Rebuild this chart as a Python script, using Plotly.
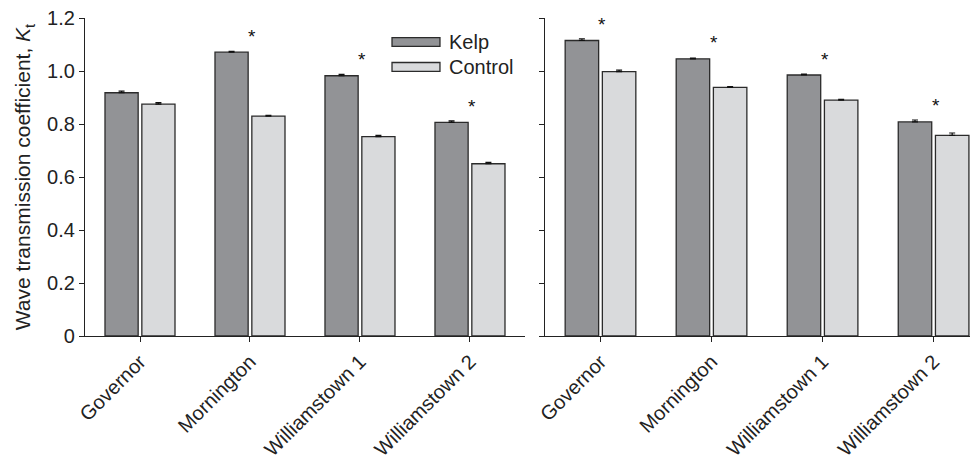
import plotly.graph_objects as go

sites = ["Governor", "Mornington", "Williamstown 1", "Williamstown 2"]

left_kelp = [0.918, 1.071, 0.982, 0.806]
left_kelp_err = [0.006, 0.003, 0.005, 0.006]
left_control = [0.875, 0.830, 0.752, 0.650]
left_control_err = [0.006, 0.003, 0.005, 0.005]
left_sig = [False, True, True, True]

right_kelp = [1.115, 1.046, 0.985, 0.808]
right_kelp_err = [0.006, 0.003, 0.003, 0.007]
right_control = [0.998, 0.938, 0.890, 0.757]
right_control_err = [0.005, 0.003, 0.003, 0.009]
right_sig = [True, True, True, True]

y_ticks = [0, 0.2, 0.4, 0.6, 0.8, 1.0, 1.2]
y_ticktext = ["0", "0.2", "0.4", "0.6", "0.8", "1.0", "1.2"]

KELP = "#929396"
CONTROL = "#d9dadc"
EDGE = "#2b2b2b"
FONT = "Liberation Sans, Arial, Helvetica, sans-serif"

fig = go.Figure()

def add_bars(kelp, kerr, ctrl, cerr, xa, ya):
    for vals, errs, col, name in [(kelp, kerr, KELP, "Kelp"), (ctrl, cerr, CONTROL, "Control")]:
        fig.add_trace(go.Bar(
            x=sites, y=vals, name=name, marker=dict(color=col, line=dict(color=EDGE, width=1.3)),
            error_y=dict(type="data", array=errs, arrayminus=[0]*len(errs), symmetric=False,
                         color="#111", thickness=1.2, width=3),
            xaxis=xa, yaxis=ya, showlegend=False,
        ))

add_bars(left_kelp, left_kelp_err, left_control, left_control_err, "x", "y")
add_bars(right_kelp, right_kelp_err, right_control, right_control_err, "x2", "y2")

annotations = []
for kelp, sig, xr, yr in [(left_kelp, left_sig, "x", "y"), (right_kelp, right_sig, "x2", "y2")]:
    for s, v, flag in zip(sites, kelp, sig):
        if flag:
            annotations.append(dict(x=s, y=v + 0.06, xref=xr, yref=yr, text="*", showarrow=False,
                                    font=dict(size=19, color="#111", family=FONT),
                                    xanchor="center", yanchor="middle", xshift=2))

# custom legend (wide swatches like the original)
legend_items = [("Kelp", KELP, 0.9245), ("Control", CONTROL, 0.846)]
shapes = []
for name, col, yy in legend_items:
    shapes.append(dict(type="rect", xref="paper", yref="paper",
                       x0=0.3438, x1=0.3975, y0=yy - 0.014, y1=yy + 0.014,
                       fillcolor=col, line=dict(color=EDGE, width=1.3)))
    annotations.append(dict(x=0.405, y=yy, xref="paper", yref="paper", text=name, showarrow=False,
                            xanchor="left", yanchor="middle",
                            font=dict(size=20, color="#222", family=FONT)))

fig.update_layout(
    width=970, height=452,
    margin=dict(l=77, r=0, t=10, b=124),
    paper_bgcolor="white", plot_bgcolor="white",
    barmode="group", bargap=0.33, bargroupgap=0.1,
    font=dict(family=FONT, size=20, color="#222"),
    shapes=shapes,
    annotations=annotations,
    showlegend=False,
)

axis_common = dict(showgrid=False, zeroline=False, showline=True, linecolor="#222", linewidth=1.3,
                   ticks="outside", tickcolor="#222", tickwidth=1.2, ticklen=5)

fig.update_layout(
    xaxis=dict(domain=[0, 0.4927], range=[-0.5, 3.5], tickangle=-45, **axis_common,
               tickfont=dict(size=20, family=FONT, color="#222")),
    yaxis=dict(domain=[0, 1], range=[0, 1.2], tickvals=y_ticks, ticktext=y_ticktext, **axis_common,
               tickfont=dict(size=20, family=FONT, color="#222"), ticklabeloverflow="allow",
               title=dict(text="Wave transmission coefficient, <i>K</i><sub>t</sub>",
                          font=dict(size=21, family=FONT, color="#222"), standoff=10)),
    xaxis2=dict(domain=[0.5151, 1.0], range=[-0.5, 3.4], tickangle=-45, anchor="y2", **axis_common,
                tickfont=dict(size=20, family=FONT, color="#222")),
    yaxis2=dict(domain=[0, 1], range=[0, 1.2], tickvals=y_ticks, showticklabels=False, anchor="x2", **axis_common),
)

fig.write_html("out.html")
